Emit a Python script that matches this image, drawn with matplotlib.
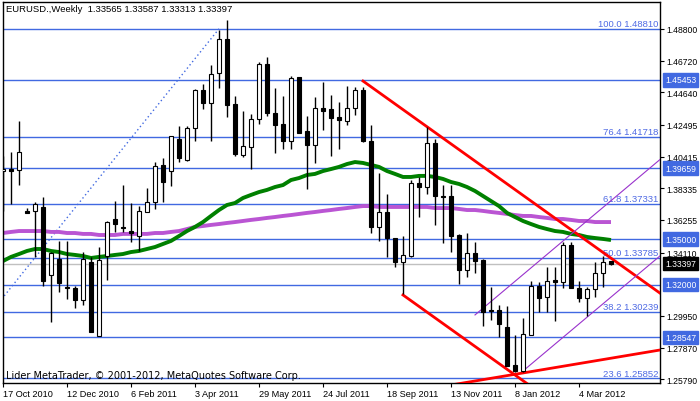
import matplotlib
matplotlib.use('Agg')
import matplotlib.pyplot as plt
import numpy as np

plt.rcParams['font.family'] = ['Liberation Sans', 'DejaVu Sans']

# Weekly EURUSD bars, first bar = week of 17 Oct 2010
opens = [1.3947, 1.3960, 1.3954, 1.3685, 1.3685, 1.3711, 1.3264, 1.3369, 1.3186, 1.3179,
         1.3100, 1.3350, 1.2864, 1.3389, 1.3632, 1.3580, 1.3553, 1.3520, 1.3678, 1.3744,
         1.3987, 1.3947, 1.4158, 1.4020, 1.4230, 1.4479, 1.4394, 1.4591, 1.4814, 1.4387,
         1.4052, 1.4105, 1.4289, 1.4650, 1.4328, 1.4256, 1.4144, 1.4565, 1.4210, 1.4118,
         1.4361, 1.4355, 1.4302, 1.4276, 1.4361, 1.4479, 1.4144, 1.3580, 1.3678, 1.3507,
         1.3350, 1.3389, 1.3869, 1.3842, 1.4131, 1.3783, 1.3783, 1.3527, 1.3297, 1.3409,
         1.3363, 1.3034, 1.3034, 1.2923, 1.2673, 1.2634, 1.2870, 1.3192, 1.3120, 1.3231,
         1.3218, 1.3461, 1.3179, 1.3113, 1.3172, 1.3277, 1.33565]
highs = [1.4046, 1.4072, 1.4276, 1.3704, 1.3744, 1.3777, 1.3415, 1.3488, 1.3488, 1.3192,
         1.3415, 1.3383, 1.3448, 1.3619, 1.3750, 1.3855, 1.3737, 1.3717, 1.3836, 1.4006,
         1.4033, 1.4177, 1.4243, 1.4243, 1.4486, 1.4519, 1.4644, 1.4873, 1.4939, 1.4440,
         1.4341, 1.4322, 1.4663, 1.4696, 1.4492, 1.4440, 1.4571, 1.4565, 1.4309, 1.4433,
         1.4532, 1.4447, 1.4401, 1.4506, 1.4499, 1.4499, 1.4249, 1.3934, 1.3796, 1.3507,
         1.3520, 1.3888, 1.3908, 1.4236, 1.4158, 1.3855, 1.3855, 1.3534, 1.3540, 1.3481,
         1.3369, 1.3186, 1.3067, 1.3061, 1.2870, 1.2982, 1.3225, 1.3218, 1.3317, 1.3317,
         1.3481, 1.3481, 1.3225, 1.3186, 1.3350, 1.3389, 1.33587]
lows = [1.3685, 1.3731, 1.3855, 1.3672, 1.3383, 1.3192, 1.2956, 1.3153, 1.3107, 1.3048,
        1.3067, 1.2890, 1.2864, 1.3231, 1.3547, 1.3547, 1.3481, 1.3422, 1.3678, 1.3698,
        1.3744, 1.3849, 1.4006, 1.4013, 1.4144, 1.4355, 1.4144, 1.4492, 1.4302, 1.4046,
        1.4039, 1.3960, 1.4256, 1.4309, 1.4066, 1.4092, 1.4092, 1.4197, 1.3829, 1.4000,
        1.4217, 1.4046, 1.4092, 1.4249, 1.4315, 1.4138, 1.3540, 1.3488, 1.3383, 1.3317,
        1.3140, 1.3383, 1.3645, 1.3796, 1.3593, 1.3475, 1.3415, 1.3205, 1.3251, 1.3277,
        1.2929, 1.2969, 1.2857, 1.2667, 1.2627, 1.2627, 1.2870, 1.3021, 1.3021, 1.2962,
        1.3179, 1.3179, 1.3087, 1.2995, 1.3120, 1.3186, 1.33313]
closes = [1.3960, 1.3947, 1.4072, 1.3672, 1.3731, 1.3225, 1.3409, 1.3212, 1.3179, 1.3100,
          1.3369, 1.2890, 1.3363, 1.3612, 1.3599, 1.3573, 1.3540, 1.3685, 1.3744, 1.3980,
          1.3875, 1.4177, 1.4033, 1.4230, 1.4479, 1.4394, 1.4584, 1.4814, 1.4381, 1.4059,
          1.4112, 1.4289, 1.4650, 1.4328, 1.4249, 1.4144, 1.4558, 1.4197, 1.4118, 1.4361,
          1.4341, 1.4295, 1.4282, 1.4361, 1.4479, 1.4144, 1.3580, 1.3678, 1.3507, 1.3350,
          1.3396, 1.3869, 1.3842, 1.4131, 1.3783, 1.3777, 1.3520, 1.3297, 1.3409, 1.3356,
          1.3021, 1.3028, 1.2942, 1.2667, 1.2634, 1.2877, 1.3192, 1.3113, 1.3225, 1.3218,
          1.3461, 1.3179, 1.3113, 1.3172, 1.3277, 1.3350, 1.33397]

# moving averages
ma_green = [1.3356, 1.3383, 1.3402, 1.3422, 1.3435, 1.3435, 1.3422, 1.3415, 1.3402, 1.3396,
            1.3389, 1.3376, 1.3383, 1.3389, 1.3396, 1.3402, 1.3415, 1.3422, 1.3435, 1.3448,
            1.3468, 1.3488, 1.3520, 1.3553, 1.3580, 1.3612, 1.3652, 1.3691, 1.3724, 1.3737,
            1.3770, 1.3790, 1.3809, 1.3823, 1.3842, 1.3855, 1.3888, 1.3901, 1.3921, 1.3928,
            1.3947, 1.3960, 1.3974, 1.3993, 1.4006, 1.4000, 1.3987, 1.3974, 1.3947, 1.3928,
            1.3908, 1.3908, 1.3915, 1.3915, 1.3908, 1.3895, 1.3875, 1.3862, 1.3842, 1.3816,
            1.3783, 1.3750, 1.3717, 1.3672, 1.3645, 1.3619, 1.3599, 1.3580, 1.3566, 1.3553,
            1.3547, 1.3534, 1.3527, 1.3514, 1.3507, 1.3501, 1.3494]
ma_purple = [1.3540, 1.3547, 1.3553, 1.3553, 1.3553, 1.3553, 1.3547, 1.3547, 1.3540, 1.3540,
             1.3534, 1.3534, 1.3527, 1.3527, 1.3527, 1.3534, 1.3534, 1.3534, 1.3534, 1.3540,
             1.3540, 1.3547, 1.3553, 1.3566, 1.3580, 1.3586, 1.3593, 1.3599, 1.3606, 1.3612,
             1.3619, 1.3626, 1.3632, 1.3639, 1.3645, 1.3652, 1.3658, 1.3665, 1.3672, 1.3678,
             1.3685, 1.3691, 1.3698, 1.3704, 1.3711, 1.3717, 1.3717, 1.3711, 1.3711, 1.3711,
             1.3711, 1.3711, 1.3711, 1.3711, 1.3704, 1.3704, 1.3704, 1.3698, 1.3691, 1.3691,
             1.3685, 1.3678, 1.3672, 1.3665, 1.3658, 1.3652, 1.3652, 1.3645, 1.3639, 1.3632,
             1.3632, 1.3626, 1.3619, 1.3619, 1.3612, 1.3612, 1.3612]

# horizontal levels and fibonacci retracement
levels = [1.45453, 1.39659, 1.35000, 1.32000, 1.28547]
fib_pcts = ['100.0', '76.4', '61.8', '50.0', '38.2', '23.6']
fib_prices = [1.48810, 1.41718, 1.37331, 1.33785, 1.30239, 1.25852]
fib_anchor = ([-19, 27], [1.18760, 1.48810])

# trend lines (bar index, price)
red_upper = ([45, 72], [1.4538, 1.3525])
red_lower = ([50, 77], [1.3133, 1.2120])
red_rising = ([60, 80], [1.2577, 1.2753])
violet_upper = ([59, 82], [1.3002, 1.4017])
violet_lower = ([65, 82], [1.2634, 1.3384])

title = "EURUSD.,Weekly  1.33565 1.33587 1.33313 1.33397"
date_labels = ['17 Oct 2010', '12 Dec 2010', '6 Feb 2011', '3 Apr 2011', '29 May 2011',
               '24 Jul 2011', '18 Sep 2011', '13 Nov 2011', '8 Jan 2012', '4 Mar 2012']
price_ticks = [1.48800, 1.46720, 1.44640, 1.42495, 1.40415, 1.38335, 1.36255, 1.34110,
               1.29950, 1.27870, 1.25790]

BLUE = '#4169E1'
x = np.arange(len(closes))

fig = plt.figure(figsize=(7, 4.02), dpi=100)
ax = fig.add_axes([3 / 700, 18 / 402, 657 / 700, 381 / 402])
ax.set_xlim(0, 82.125)
ax.set_ylim(1.2555, 1.5057)

for p in levels + fib_prices:
    ax.axhline(p, color=BLUE, lw=1, zorder=1)
ax.axhline(closes[-1], color='#c0c0c0', lw=1, zorder=1)
ax.plot(fib_anchor[0], fib_anchor[1], color=BLUE, lw=1, ls=(0, (1, 2)), zorder=1)

for pct, p in zip(fib_pcts, fib_prices):
    ax.text(81.9, p + 0.0004, f'{pct} {p:.5f}', color='#4f6ae4', fontsize=6.8,
            ha='right', va='bottom', zorder=2)

ax.plot(x, ma_purple, color='#BA55D3', lw=2.8, zorder=2, solid_capstyle='butt')
ax.plot(x, ma_green, color='#008000', lw=2.8, zorder=2, solid_capstyle='butt')


def ray(pts, x_end=90):
    (x0, x1), (y0, y1) = pts
    k = (y1 - y0) / (x1 - x0)
    return [x0, x_end], [y0, y0 + k * (x_end - x0)]


def full(pts):
    (x0, x1), (y0, y1) = pts
    k = (y1 - y0) / (x1 - x0)
    return [-5, 90], [y0 + k * (-5 - x0), y0 + k * (90 - x0)]


for pts in (red_upper, red_lower):
    xs, ys = ray(pts)
    ax.plot(xs, ys, color='red', lw=2, zorder=3)
xs, ys = full(red_rising)
ax.plot(xs, ys, color='red', lw=2, zorder=3)
for pts in (violet_upper, violet_lower):
    xs, ys = ray(pts)
    ax.plot(xs, ys, color='#9932CC', lw=0.8, zorder=3)

# candles
o = np.array(opens)
c = np.array(closes)
up = c >= o
ax.vlines(x, lows, highs, color='black', lw=1, zorder=4)
ax.bar(x, np.abs(c - o), bottom=np.minimum(o, c), width=0.6,
       color=np.where(up, 'white', 'black'), edgecolor='black', lw=0.8, zorder=5)

# axes styling
for s in ax.spines.values():
    s.set_color('black')
    s.set_linewidth(1)
ax.set_xticks(np.arange(0, 80, 8))
ax.set_xticklabels(date_labels)
for lab in ax.get_xticklabels():
    lab.set_ha('left')
ax.yaxis.tick_right()
ax.set_yticks(price_ticks)
ax.set_yticklabels([f'{p:.5f}' for p in price_ticks])
ax.tick_params(axis='both', direction='out', length=3, width=0.8, colors='black')
ax.tick_params(axis='x', pad=1, labelsize=6.6)
ax.tick_params(axis='y', pad=1.8, labelsize=6.2)

ytr = ax.get_yaxis_transform()
for p in levels:
    ax.text(1.0075, p, f'{p:.5f}', transform=ytr, color='white', fontsize=6.2, va='center',
            ha='left', clip_on=False, zorder=6,
            bbox=dict(boxstyle='square,pad=0.25', fc=BLUE, ec=BLUE))
ax.text(1.0075, closes[-1], f'{closes[-1]:.5f}', transform=ytr, color='white', fontsize=6.2,
        va='center', ha='left', clip_on=False, zorder=6,
        bbox=dict(boxstyle='square,pad=0.25', fc='black', ec='black'))

ax.annotate(title, xy=(0, 1), xycoords='axes fraction', xytext=(2, -1.5),
            textcoords='offset points', fontsize=6.8, va='top', ha='left')
ax.annotate('Lider MetaTrader, \u00a9 2001-2012, MetaQuotes Software Corp.', xy=(0, 0),
            xycoords='axes fraction', xytext=(2, 2.5), textcoords='offset points',
            fontsize=7, family='DejaVu Sans', va='bottom', ha='left', zorder=7)

fig.savefig('out.png', dpi=100)
